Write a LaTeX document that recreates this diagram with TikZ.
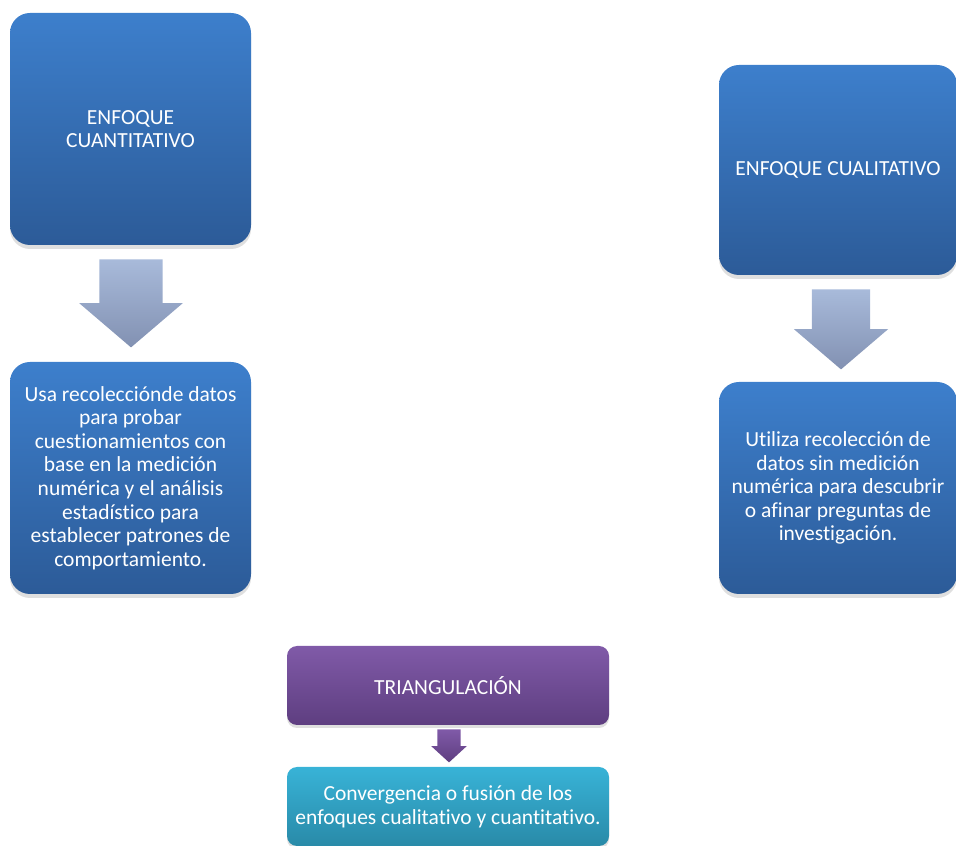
\documentclass[tikz,border=0pt]{standalone}
\usepackage{fontspec}
\setmainfont{Carlito}[Ligatures=NoCommon]
\usetikzlibrary{shapes.arrows,shadows,calc}
\definecolor{azularriba}{RGB}{61,127,204}
\definecolor{azulabajo}{RGB}{44,91,152}
\definecolor{grisarriba}{RGB}{168,186,218}
\definecolor{grisabajo}{RGB}{130,145,178}
\definecolor{moradoarriba}{RGB}{128,90,168}
\definecolor{moradoabajo}{RGB}{94,62,128}
\definecolor{cianarriba}{RGB}{56,179,215}
\definecolor{cianabajo}{RGB}{41,138,168}

\begin{document}
\begin{tikzpicture}[x=1pt, y=1pt,
    every node/.style = {align=center, text=white, inner sep=0pt,
      font=\fontsize{21.5}{23.6}\selectfont},
    caja/.style = {rounded corners=20pt,
      top color=azularriba, bottom color=azulabajo,
      drop shadow={shadow xshift=0pt, shadow yshift=-4pt, opacity=0.25}},
    barra/.style = {rounded corners=10pt, minimum width=322, minimum height=79,
      drop shadow={shadow xshift=0pt, shadow yshift=-3pt, opacity=0.25}},
    flecha/.style = {single arrow, rotate=-90, anchor=tail, inner xsep=0pt,
      single arrow head indent=0pt}]
  \useasboundingbox (0,0) rectangle (956,846);

  \node[caja, minimum width=241, minimum height=232] (quant) at (130.5,717)
    {ENFOQUE\\CUANTITATIVO};
  \node[caja, minimum width=241, minimum height=232] (quantdesc) at (130.5,368)
    {Usa recolecciónde datos\\para probar\\cuestionamientos con\\base en la medición\\numérica y el análisis\\estadístico para\\establecer patrones de\\comportamiento.};
  \node[caja, minimum width=238, minimum height=210] (qual) at (838,676)
    {ENFOQUE CUALITATIVO};
  \node[caja, minimum width=238, minimum height=212] (qualdesc) at (838,358)
    {Utiliza recolección de\\datos sin medición\\numérica para descubrir\\o afinar preguntas de\\investigación.};
  \node[barra, top color=moradoarriba, bottom color=moradoabajo] (triang) at (448,160.5)
    {TRIANGULACIÓN};
  \node[barra, top color=cianarriba, bottom color=cianabajo] (converg) at (448,39.5)
    {Convergencia o fusión de los\\enfoques cualitativo y cuantitativo.};

  \node[flecha, top color=grisarriba, bottom color=grisabajo,
    minimum height=88, inner ysep=31.5, single arrow head extend=20,
    single arrow tip angle=99] (flechaquant) at ($(quant.south)+(0.5,-14)$) {};
  \node[flecha, top color=grisarriba, bottom color=grisabajo,
    minimum height=80, inner ysep=29, single arrow head extend=18,
    single arrow tip angle=99] (flechaqual) at ($(qual.south)+(3,-14)$) {};
  \node[flecha, top color=moradoarriba, bottom color=moradoabajo,
    minimum height=33, inner ysep=11.5, single arrow head extend=6,
    single arrow tip angle=95] (flechatriang) at ($(triang.south)+(1,-4)$) {};
\end{tikzpicture}
\end{document}
